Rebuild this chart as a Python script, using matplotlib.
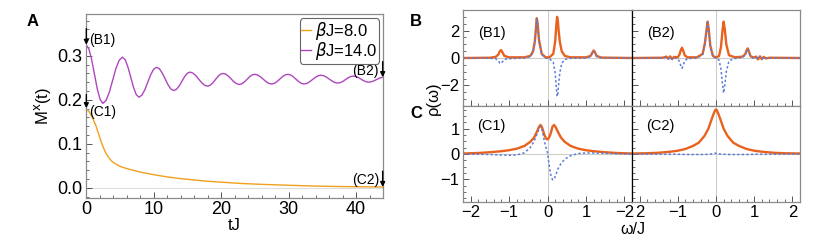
import matplotlib
matplotlib.use("Agg")
import matplotlib.pyplot as plt
from matplotlib.ticker import MultipleLocator, FixedLocator, NullFormatter

plt.rcParams['font.family'] = ['Liberation Sans', 'DejaVu Sans']
plt.rcParams['mathtext.fontset'] = 'dejavusans'

# ---- panel A: M^x(t) ----
t_8 = [0.0, 0.5, 1.0, 1.5, 2.0, 2.5, 3.0, 3.5, 4.0, 5.0, 6.0, 7.0, 8.0, 10.0,
       12.0, 14.0, 16.0, 18.0, 20.0, 23.0, 26.0, 30.0, 34.0, 38.0, 44.0]
m_8 = [0.181, 0.172, 0.158, 0.140, 0.116, 0.094, 0.077, 0.066, 0.058, 0.049,
       0.044, 0.040, 0.036, 0.030, 0.025, 0.021, 0.018, 0.015, 0.013, 0.010,
       0.008, 0.006, 0.004, 0.003, 0.002]

t_14 = [0.0, 0.42, 0.83, 1.25, 1.67, 2.08, 2.5,
        2.98, 3.47, 3.95, 4.43, 4.92, 5.4,
        5.81, 6.22, 6.63, 7.03, 7.44, 7.85,
        8.28, 8.72, 9.15, 9.58, 10.02, 10.45,
        10.88, 11.3, 11.73, 12.15, 12.58, 13.0,
        13.4, 13.8, 14.2, 14.6, 15.0, 15.4,
        15.83, 16.27, 16.7, 17.13, 17.57, 18.0,
        18.38, 18.77, 19.15, 19.53, 19.92, 20.3,
        20.7, 21.1, 21.5, 21.9, 22.3, 22.7,
        23.08, 23.47, 23.85, 24.23, 24.62, 25.0,
        25.42, 25.83, 26.25, 26.67, 27.08, 27.5,
        27.9, 28.3, 28.7, 29.1, 29.5, 29.9,
        30.3, 30.7, 31.1, 31.5, 31.9, 32.3,
        32.72, 33.13, 33.55, 33.97, 34.38, 34.8,
        35.22, 35.63, 36.05, 36.47, 36.88, 37.3,
        37.68, 38.07, 38.45, 38.83, 39.22, 39.6,
        39.98, 40.37, 40.75, 41.13, 41.52, 41.9,
        42.3, 42.7, 43.1, 43.5, 44.0]
m_14 = [0.325, 0.316, 0.292, 0.2585, 0.225, 0.201, 0.192,
        0.199, 0.218, 0.2445, 0.271, 0.290, 0.297,
        0.291, 0.274, 0.2515, 0.229, 0.212, 0.206,
        0.2106, 0.223, 0.240, 0.257, 0.2694, 0.274,
        0.2705, 0.2608, 0.2475, 0.2343, 0.2245, 0.221,
        0.2238, 0.2315, 0.242, 0.2525, 0.2602, 0.263,
        0.2609, 0.255, 0.247, 0.239, 0.2331, 0.231,
        0.2329, 0.2383, 0.2455, 0.2528, 0.2581, 0.260,
        0.2583, 0.2538, 0.2475, 0.2413, 0.2367, 0.235,
        0.2365, 0.2408, 0.2465, 0.2523, 0.2565, 0.258,
        0.2565, 0.2525, 0.247, 0.2415, 0.2375, 0.236,
        0.2375, 0.2415, 0.247, 0.2525, 0.2565, 0.258,
        0.2565, 0.2525, 0.247, 0.2415, 0.2375, 0.236,
        0.2373, 0.241, 0.246, 0.251, 0.2547, 0.256,
        0.2548, 0.2515, 0.247, 0.2425, 0.2392, 0.238,
        0.2391, 0.242, 0.246, 0.250, 0.2529, 0.254,
        0.2531, 0.2505, 0.247, 0.2435, 0.2409, 0.240,
        0.2412, 0.2435, 0.2465, 0.2495, 0.2515]

# ---- panels B1, B2, C1, C2: rho(omega) ----
w_b1 = [-2.2, -1.5, -1.35, -1.28, -1.24, -1.21, -1.18, -1.12, -1.0, -0.6, -0.45, -0.38,
        -0.33, -0.30, -0.28, -0.26, -0.22, -0.15, -0.05, 0.05, 0.15, 0.20, 0.23, 0.25,
        0.27, 0.29, 0.32, 0.37, 0.45, 0.6, 1.0, 1.12, 1.17, 1.2, 1.23, 1.28, 1.4, 2.2]
b1_re = [0.0, 0.02, 0.08, 0.25, 0.5, 0.58, 0.45, 0.15, 0.05, 0.05, 0.15, 0.45,
         1.2, 2.2, 2.9, 2.6, 1.3, 0.3, 0.05, 0.05, 0.3, 1.2, 2.4, 3.0,
         2.7, 2.0, 1.2, 0.5, 0.15, 0.05, 0.05, 0.15, 0.4, 0.55, 0.45, 0.15, 0.03, 0.0]
b1_im = [0.0, -0.02, -0.05, -0.2, -0.38, -0.4, -0.3, -0.1, -0.05, 0.0, 0.1, 0.4,
         1.1, 2.1, 2.85, 2.5, 1.2, 0.25, 0.0, -0.05, -0.3, -1.1, -2.2, -2.8,
         -2.6, -1.9, -1.1, -0.4, -0.1, -0.02, 0.0, 0.1, 0.35, 0.5, 0.4, 0.1, 0.02, 0.0]

w_b2 = [-2.2, -1.4, -1.3, -1.25, -1.2, -1.15, -1.1, -1.0, -0.95, -0.92, -0.89, -0.86,
        -0.82, -0.75, -0.5, -0.35, -0.29, -0.25, -0.22, -0.19, -0.15, -0.08, 0.0, 0.08,
        0.13, 0.17, 0.2, 0.23, 0.27, 0.34, 0.5, 0.7, 0.77, 0.8, 0.83, 0.86, 0.9, 0.97,
        1.05, 1.1, 1.15, 1.2, 1.25, 1.3, 1.4, 2.2]
b2_re = [0.0, 0.02, 0.1, -0.05, 0.12, -0.08, 0.08, 0.05, 0.3, 0.6, 0.75, 0.55,
         0.2, 0.05, 0.05, 0.3, 1.1, 2.0, 2.65, 2.1, 0.9, 0.15, 0.03, 0.15,
         0.8, 2.0, 2.65, 2.1, 1.0, 0.2, 0.05, 0.1, 0.3, 0.55, 0.7, 0.5, 0.15, 0.03,
         0.1, -0.1, 0.12, -0.08, 0.08, -0.03, 0.02, 0.0]
b2_im = [0.0, 0.0, 0.05, -0.08, 0.08, -0.1, 0.0, -0.05, -0.3, -0.6, -0.75, -0.55,
         -0.2, -0.05, 0.0, 0.25, 1.0, 1.9, 2.6, 2.0, 0.8, 0.1, -0.03, -0.15,
         -0.8, -1.9, -2.55, -2.0, -1.0, -0.2, -0.03, 0.05, 0.25, 0.5, 0.65, 0.45, 0.12, 0.0,
         0.05, -0.08, 0.1, -0.1, 0.05, -0.02, 0.0, 0.0]

w_c1 = [-2.2, -1.8, -1.5, -1.2, -1.0, -0.8, -0.6, -0.45, -0.35, -0.27, -0.22, -0.18,
        -0.14, -0.08, -0.03, 0.0, 0.03, 0.08, 0.13, 0.17, 0.21, 0.27, 0.35, 0.45, 0.6,
        0.8, 1.0, 1.2, 1.5, 1.8, 2.2]
c1_re = [0.02, 0.04, 0.07, 0.11, 0.15, 0.21, 0.32, 0.48, 0.65, 0.9, 1.08, 1.15,
         1.05, 0.75, 0.6, 0.58, 0.62, 0.8, 1.08, 1.15, 1.07, 0.88, 0.65, 0.48, 0.32,
         0.21, 0.15, 0.11, 0.07, 0.04, 0.02]
c1_im = [0.0, -0.01, -0.02, -0.04, -0.05, -0.04, 0.05, 0.25, 0.5, 0.8, 1.0, 1.1,
         0.95, 0.5, 0.2, 0.05, -0.3, -0.8, -1.02, -1.0, -0.85, -0.6, -0.38, -0.2, -0.07,
         0.02, 0.04, 0.04, 0.03, 0.01, 0.0]

w_c2 = [-2.2, -1.8, -1.5, -1.2, -1.0, -0.8, -0.6, -0.45, -0.3, -0.2, -0.12, -0.06,
        -0.02, 0.0, 0.02, 0.06, 0.12, 0.2, 0.3, 0.45, 0.6, 0.8, 1.0, 1.2, 1.5, 1.8, 2.2]
c2_re = [0.02, 0.03, 0.05, 0.09, 0.13, 0.2, 0.32, 0.45, 0.72, 1.0, 1.35, 1.6,
         1.74, 1.76, 1.74, 1.6, 1.35, 1.0, 0.72, 0.45, 0.32, 0.2, 0.13, 0.09, 0.05, 0.03, 0.02]
c2_im = [0.0, 0.0, -0.01, -0.01, -0.01, -0.02, -0.02, -0.02, -0.02, -0.01, 0.0, 0.01,
         0.03, 0.03, 0.03, 0.01, 0.0, -0.01, -0.02, -0.02, -0.02, -0.02, -0.01, -0.01, -0.01, 0.0, 0.0]

c_orange = '#f0a01e'
c_purple = '#b045c0'
c_red = '#e8621e'
c_blue = '#5a7bd8'
frame_gray = '#8a8a8a'

W, H = 830, 242
fig = plt.figure(figsize=(8.3, 2.42), dpi=100)

def box(x0, y0, x1, y1):
    return [x0 / W, 1 - y1 / H, (x1 - x0) / W, (y1 - y0) / H]

def style(ax, size):
    for s in ax.spines.values():
        s.set_color(frame_gray)
        s.set_linewidth(0.9)
    ax.tick_params(which='both', direction='in', top=False, right=False,
                   color='#555555', labelsize=size, pad=2.5)
    ax.tick_params(which='major', length=4, width=0.7)
    ax.tick_params(which='minor', length=2, width=0.6)

# panel A
axA = fig.add_axes(box(86, 14, 383, 198))
style(axA, 13)
axA.axhline(0, color='#dddddd', lw=0.8, zorder=0)
axA.plot(t_8, m_8, color=c_orange, lw=1.0, label=r'$\beta$J=8.0')
axA.plot(t_14, m_14, color=c_purple, lw=1.0, label=r'$\beta$J=14.0')
axA.set_xlim(0, 44)
axA.set_ylim(-0.023, 0.395)
axA.xaxis.set_major_locator(MultipleLocator(10))
axA.xaxis.set_minor_locator(MultipleLocator(2))
axA.yaxis.set_major_locator(FixedLocator([0.0, 0.1, 0.2, 0.3]))
axA.yaxis.set_minor_locator(MultipleLocator(0.02))
axA.set_yticklabels(['0.0', '0.1', '0.2', '0.3'])
axA.set_xlabel('tJ', fontsize=12, labelpad=0)
axA.set_ylabel(r'M$^{\mathrm{x}}$(t)', fontsize=12, labelpad=3)
leg = axA.legend(loc='upper right', fontsize=12, handlelength=0.6, handletextpad=0.2,
                 borderpad=0.1, labelspacing=-0.1, borderaxespad=0.25, fancybox=True,
                 framealpha=1)
leg.get_frame().set_edgecolor('#666666')
leg.get_frame().set_linewidth(0.8)

arrow = dict(arrowstyle='-|>', color='black', lw=1.0, mutation_scale=7, shrinkA=0, shrinkB=0)
axA.annotate('', xy=(0.05, m_14[0]), xytext=(0.05, 0.362), arrowprops=arrow, annotation_clip=False)
axA.annotate('', xy=(0.05, m_8[0]), xytext=(0.05, 0.212), arrowprops=arrow, annotation_clip=False)
axA.annotate('', xy=(43.95, m_14[-1]), xytext=(43.95, 0.287), arrowprops=arrow, annotation_clip=False)
axA.annotate('', xy=(43.95, m_8[-1]), xytext=(43.95, 0.038), arrowprops=arrow, annotation_clip=False)
axA.text(0.4, 0.336, '(B1)', fontsize=10, ha='left', va='center')
axA.text(0.4, 0.173, '(C1)', fontsize=10, ha='left', va='center')
axA.text(43.4, 0.266, '(B2)', fontsize=10, ha='right', va='center')
axA.text(43.4, 0.018, '(C2)', fontsize=10, ha='right', va='center')

# panels B / C
panels = [
    ('(B1)', box(463, 10, 632, 106), w_b1, b1_re, b1_im, (-3.5, 3.5), True),
    ('(B2)', box(632, 10, 800, 106), w_b2, b2_re, b2_im, (-3.5, 3.5), False),
    ('(C1)', box(463, 106, 632, 202), w_c1, c1_re, c1_im, (-1.9, 1.9), True),
    ('(C2)', box(632, 106, 800, 202), w_c2, c2_re, c2_im, (-1.9, 1.9), False),
]
axes = []
for name, rect, w, re_, im_, ylim, left in panels:
    ax = fig.add_axes(rect)
    style(ax, 12)
    ax.axhline(0, color='#cccccc', lw=0.8, zorder=0)
    ax.axvline(0, color='#cccccc', lw=0.8, zorder=0)
    ax.plot(w, re_, color=c_red, lw=1.7, solid_joinstyle='round')
    ax.plot(w, im_, color=c_blue, lw=1.1, ls=(0, (1.5, 1.5)))
    ax.set_xlim(-2.2, 2.2)
    ax.set_ylim(*ylim)
    ax.xaxis.set_major_locator(MultipleLocator(1))
    ax.xaxis.set_minor_locator(MultipleLocator(0.2))
    if ylim[1] > 3:
        ax.yaxis.set_major_locator(FixedLocator([-2, 0, 2]))
        ax.yaxis.set_minor_locator(MultipleLocator(0.5))
        ty = 1.8
    else:
        ax.yaxis.set_major_locator(FixedLocator([-1, 0, 1]))
        ax.yaxis.set_minor_locator(MultipleLocator(0.25))
        ty = 1.1
    if not left:
        ax.spines['left'].set_color('black')
        ax.set_yticklabels([])
    ax.text(-1.45, ty, name, fontsize=10.5, ha='center', va='center')
    axes.append(ax)

for ax in axes[:2]:
    ax.xaxis.set_major_formatter(NullFormatter())
axes[0].set_yticklabels(['\u22122', '0', '2'])
axes[2].set_yticklabels(['\u22121', '0', '1'])
axes[2].set_xticks([-2, -1, 0, 1, 2])
axes[2].set_xticklabels(['\u22122', '\u22121', '0', '1', '\u22122'])
axes[3].set_xticks([-2, -1, 0, 1, 2])
axes[3].set_xticklabels(['2', '\u22121', '0', '1', '2'])

fig.text(633 / W, 1 - 230 / H, '\u03c9/J', fontsize=11.5, ha='center', va='center')
fig.text(433 / W, 1 - 98 / H, '\u03c1(\u03c9)', fontsize=12, ha='center', va='center',
         rotation=90)

fig.text(33 / W, 1 - 21 / H, 'A', fontsize=12, fontweight='bold', ha='center', va='center')
fig.text(416 / W, 1 - 21 / H, 'B', fontsize=12, fontweight='bold', ha='center', va='center')
fig.text(416 / W, 1 - 113 / H, 'C', fontsize=12, fontweight='bold', ha='center', va='center')

fig.savefig('out.png', dpi=100)
